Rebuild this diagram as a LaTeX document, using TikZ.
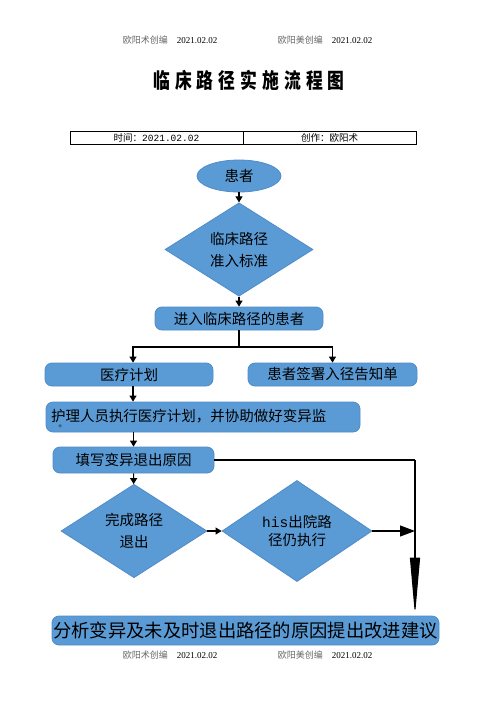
\documentclass[tikz,border=0pt]{standalone}
\usepackage{fontspec}
\setmainfont{Noto Sans CJK SC}
\newfontfamily\datefont{Liberation Serif}
\newfontfamily\monofont{Liberation Mono}
\newfontfamily\titlefont[FakeStretch=0.8,LetterSpace=24]{Noto Sans CJK SC}
\usepackage{tikz}
\usetikzlibrary{arrows.meta}
\usetikzlibrary{shapes.geometric,positioning}
\definecolor{stepblue}{HTML}{5B9BD5}
\definecolor{stepline}{HTML}{4F8CC9}
\tikzset{every stepbox/.style={draw=stepline, fill=stepblue, line width=0.8pt},
  stepbox/.style={every stepbox, rectangle, rounded corners=7pt, inner sep=0pt,
    font=\fontsize{14.5}{16}\selectfont},
  stepdiamond/.style={every stepbox, diamond, inner sep=0pt, align=center,
    font=\fontsize{14.5}{22}\selectfont},
  flow/.style={line width=1.1pt, -{Triangle[width=7pt,length=6pt]}},
  headnote/.style={text=black!60, font=\fontsize{9}{9}\selectfont},
  cell/.style={draw, line width=0.8pt, inner sep=0pt, minimum height=13pt,
    font=\fontsize{9.5}{9.5}\selectfont}}
\begin{document}
\begin{tikzpicture}[x=1pt,y=-1pt]
  \useasboundingbox (0,0) rectangle (496,702);
  % header and title
  \node[headnote] (headleft) at (170,40) {欧阳术创编\quad{\datefont\color{black}2021.02.02}};
  \node[headnote] (headright) at (325,40) {欧阳美创编\quad{\datefont\color{black}2021.02.02}};
  \node (title) at (249,80) {\titlefont\bfseries\fontsize{21}{21}\selectfont 临床路径实施流程图};
  \node[cell, minimum width=173pt] (timecell) at (156.5,137.5) {时间：{\monofont 2021.02.02}};
  \node[cell, minimum width=173pt] (authorcell) at (329.5,137.5) {创作：欧阳术};
  % flow
  \node[every stepbox, ellipse, minimum width=84pt, minimum height=32pt,
    font=\fontsize{14.5}{16}\selectfont] (patient) at (239,176) {患者};
  \node[stepdiamond, minimum width=148pt, minimum height=89pt] (admit)
    at (239,249.5) {临床路径\\准入标准};
  \node[stepbox, minimum width=168pt, minimum height=23pt] (inpath)
    at (239,318.5) {进入临床路径的患者};
  \node[stepbox, minimum width=168pt, minimum height=23pt] (plan)
    at (129,374.5) {医疗计划};
  \node[stepbox, minimum width=169pt, minimum height=23pt] (consent)
    at (332.5,374.5) {患者签署入径告知单};
  \node[stepbox, minimum width=314pt, minimum height=30pt, text width=304pt,
    align=left] (nursing) at (203,417) {护理人员执行医疗计划，并协助做好变异监\vphantom{Ag}\\[-3pt]};
  \node[font=\fontsize{3}{3}\selectfont, inner sep=0pt] (nursingtail)
    at (60,426.5) {测};
  \node[stepbox, minimum width=161pt, minimum height=26pt] (reason)
    at (133.5,460) {填写变异退出原因};
  \node[stepdiamond, minimum width=146pt, minimum height=90pt] (finish)
    at (134,531) {完成路径\\退出};
  \node[stepdiamond, minimum width=150pt, minimum height=86pt,
    font=\fontsize{14.5}{18}\selectfont] (his)
    at (297,531) {{\monofont his}出院路\\径仍执行};
  \node[stepbox, minimum width=387pt, minimum height=29pt,
    font=\fontsize{18.3}{20}\selectfont] (analysis)
    at (245.5,630.5) {分析变异及未及时退出路径的原因提出改进建议};
  \node[headnote] (footleft) at (170,655) {欧阳术创编\quad{\datefont\color{black}2021.02.02}};
  \node[headnote] (footright) at (325,655) {欧阳美创编\quad{\datefont\color{black}2021.02.02}};
  % connectors
  \coordinate (fork) at (239,347);
  \coordinate (corner) at (415,460);
  \draw[flow] (patient) -- (admit);
  \draw[flow] (admit) -- (inpath);
  \draw[line width=1.1pt] (inpath) -- (fork);
  \draw[flow] (fork) -| ([xshift=4pt]plan.north);
  \draw[flow] (fork) -| (consent.north);
  \draw[flow] ([xshift=4pt]plan.south) -- ([xshift=4pt]plan.south |- nursing.north);
  \draw[flow] (reason.north |- nursing.south) -- (reason.north);
  \draw[flow] (reason) -- (finish);
  \draw[flow] (finish) -- (his);
  \draw[line width=1.1pt] (reason) -- (corner);
  \draw[line width=1.1pt, -{Triangle[width=10pt,length=58pt]}] (corner) -- (corner |- analysis.north);
  \draw[line width=1.1pt, -{Triangle[width=11pt,length=15pt]}] (his) -- (corner |- his.east);
\end{tikzpicture}
\end{document}
